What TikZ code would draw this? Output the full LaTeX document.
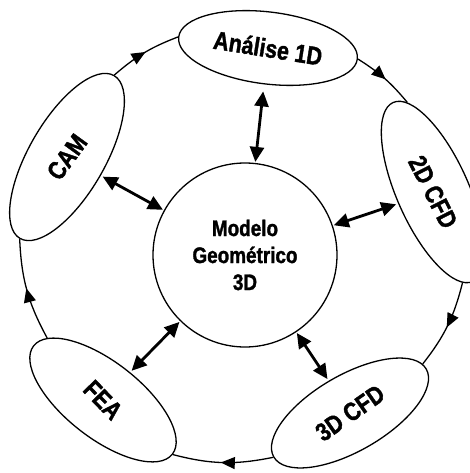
\documentclass[tikz,border=0pt]{standalone}
\usepackage{fontspec}
\setmainfont{Liberation Sans}
\newfontfamily\heavy{Liberation Sans Bold}[FakeBold=1.6]
\usetikzlibrary{shapes.geometric,arrows.meta,decorations.markings}
\newcommand\sqz[1]{\scalebox{0.84}[1]{#1}}
\begin{document}
\begin{tikzpicture}[x=1pt,y=1pt,
  bub/.style={ellipse,draw,line width=1.3pt,inner sep=0pt,font=\fontsize{25.5}{28}\selectfont\heavy},
  cyc/.style={line width=1.3pt,postaction={decorate},
    decoration={markings,mark=at position 0.52 with {\arrow{Triangle[length=14pt,width=12pt]}}}},
  dbl/.style={line width=2.8pt,{Triangle[length=15pt,width=14pt]}-{Triangle[length=15pt,width=14pt]},shorten <=2pt,shorten >=1pt}
]
\useasboundingbox (0,0) rectangle (469,-473);
\node[circle,draw,line width=1.3pt,minimum size=184pt,inner sep=0pt,align=center,
  font=\fontsize{22.5}{27}\selectfont\heavy] (geo) at (245,-255)
  {\sqz{Modelo}\\\sqz{Geométrico}\\\sqz{3D}};
\node[bub,minimum width=180pt,minimum height=72pt,rotate=-7] (a1d) at (268,-48)
  {\rotatebox{-2}{\sqz{Análise 1D}}};
\node[bub,minimum width=196pt,minimum height=72pt,rotate=-66] (cfd2) at (433,-192)
  {\rotatebox{3}{\sqz{2D CFD}}};
\node[bub,minimum width=176pt,minimum height=76pt,rotate=30] (cfd3) at (350,-413)
  {\rotatebox{5}{\sqz{3D CFD}}};
\node[bub,minimum width=176pt,minimum height=76pt,rotate=-38] (fea) at (103,-400)
  {\rotatebox{-8}{\sqz{FEA}}};
\node[bub,minimum width=188pt,minimum height=76pt,rotate=60] (cam) at (67,-157)
  {\rotatebox{-6}{\sqz{CAM}}};
% cycle
\draw[cyc] (cam.east) to[bend left=10] (a1d.west);
\draw[cyc] (a1d.east) to[bend left=9] (cfd2.172);
\draw[cyc] (cfd2.354) to[bend left=12] (cfd3.4);
\draw[cyc] (cfd3.west) to[bend left=13] (fea.east);
\draw[cyc] (fea.170) to[bend left=13] (cam.west);
% double arrows
\draw[dbl,shorten <=7pt] (a1d) -- (geo);
\draw[dbl] (cam) -- (geo);
\draw[dbl] (cfd2) -- (geo);
\draw[dbl] (cfd3) -- (geo);
\draw[dbl] (fea) -- (geo);
\end{tikzpicture}
\end{document}
